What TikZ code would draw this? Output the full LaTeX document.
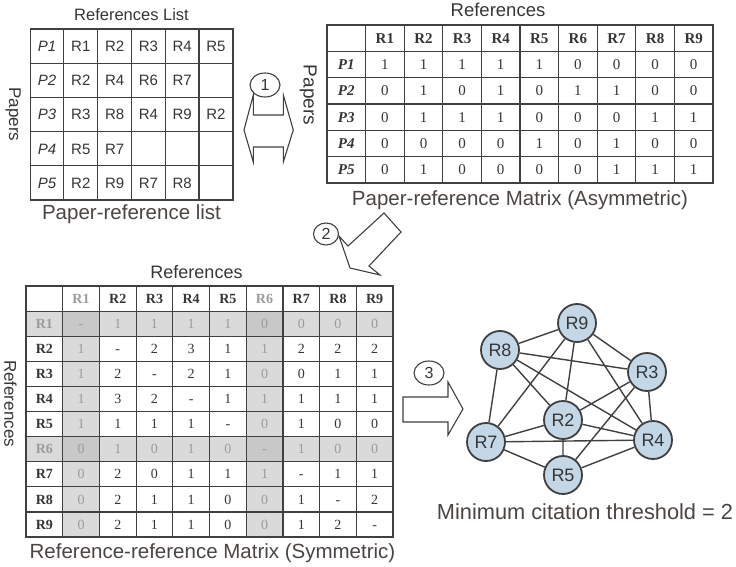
\documentclass[tikz,border=0pt]{standalone}
\usepackage{fontspec}
\setmainfont{Liberation Sans}
\newfontfamily\serifcell{Liberation Serif}
\usepackage{tikz}
\usepackage{xcolor}
\usetikzlibrary{matrix,positioning,shapes.geometric}
\definecolor{gridline}{HTML}{404040}
\definecolor{inkgray}{HTML}{363636}
\definecolor{capgray}{HTML}{4A4542}
\definecolor{shadecell}{HTML}{DADADA}
\definecolor{shadecross}{HTML}{C8C8C8}
\definecolor{shadetext}{HTML}{9C9C9C}
\definecolor{refblue}{HTML}{C3D7E6}
\tikzset{
    grid-table/.style = {matrix of nodes, nodes in empty cells, line width=1.2pt, inner sep=0pt,
        column sep=-\pgflinewidth, row sep=-\pgflinewidth,
        nodes={draw=gridline, fill=white, inner sep=0pt, anchor=center, text=inkgray, text depth=0pt}},
    list-cells/.style = {nodes={minimum width=33.8pt, minimum height=34.2pt, text height=10.7pt,
        font=\fontsize{15}{15}\selectfont}},
    paper-cells/.style = {nodes={minimum width=38.6pt, minimum height=26.3pt, text height=10pt,
        font=\serifcell\fontsize{15}{15}\selectfont}},
    ref-cells/.style = {nodes={minimum width=36.7pt, minimum height=25.1pt, text height=9.3pt,
        font=\serifcell\fontsize{14}{14}\selectfont}},
    faded/.style = {nodes={fill=shadecell, text=shadetext}},
    crossed/.style = {nodes={fill=shadecross}},
    title-text/.style = {inner sep=0pt, text=inkgray},
    side-text/.style = {inner sep=0pt, text=inkgray, rotate=-90, anchor=north},
    caption-text/.style = {inner sep=0pt, text=capgray, font=\fontsize{20.5}{20.5}\selectfont},
    ref-node/.style = {circle, draw=gridline, line width=1.8pt, fill=refblue, minimum size=38pt,
        inner sep=0pt, text=inkgray, font=\fontsize{18}{18}\selectfont},
    ref-link/.style = {draw=gridline, line width=1.4pt},
    step-num/.style = {ellipse, draw=gridline, line width=1.1pt, fill=white, minimum width=30pt,
        minimum height=24pt, inner sep=0pt, text=inkgray, font=\fontsize{16}{16}\selectfont},
    block-arrow/.style = {draw=gridline, fill=white, line width=1.1pt},
}

\begin{document}
\begin{tikzpicture}[x=1pt, y=-1pt]
\useasboundingbox (0,0) rectangle (736,567);

% paper-reference list
\matrix[grid-table, list-cells,
    column 1/.style={nodes={font=\fontsize{15}{15}\selectfont\itshape}}] (plist) at (131.5,114.5) {
P1 & R1 & R2 & R3 & R4 & R5 \\
P2 & R2 & R4 & R6 & R7 &    \\
P3 & R3 & R8 & R4 & R9 & R2 \\
P4 & R5 & R7 &    &    &    \\
P5 & R2 & R9 & R7 & R8 &    \\
};
\node[title-text, font=\fontsize{16.5}{16.5}\selectfont, above=7pt] (plist-title) at (plist.north) {References List};
\node[side-text, font=\fontsize{17}{17}\selectfont] (plist-side) at ([xshift=-8pt]plist.west) {Papers};
\node[caption-text, below=3pt] (plist-caption) at (plist.south) {Paper-reference list};

% paper-reference matrix
\matrix[grid-table, paper-cells,
    row 1/.style={nodes={font=\serifcell\fontsize{15}{15}\selectfont\bfseries}},
    column 1/.style={nodes={font=\serifcell\fontsize{15}{15}\selectfont\bfseries\itshape}}] (pmatrix) at (520,104) {
   & R1 & R2 & R3 & R4 & R5 & R6 & R7 & R8 & R9 \\
P1 & 1 & 1 & 1 & 1 & 1 & 0 & 0 & 0 & 0 \\
P2 & 0 & 1 & 0 & 1 & 0 & 1 & 1 & 0 & 0 \\
P3 & 0 & 1 & 1 & 1 & 0 & 0 & 0 & 1 & 1 \\
P4 & 0 & 0 & 0 & 0 & 1 & 0 & 1 & 0 & 0 \\
P5 & 0 & 1 & 0 & 0 & 0 & 0 & 1 & 1 & 1 \\
};
\node[title-text, font=\fontsize{18.5}{18.5}\selectfont, above=7pt, xshift=-22pt] (pmatrix-title) at (pmatrix.north) {References};
\node[side-text, font=\fontsize{19}{19}\selectfont] (pmatrix-side) at ([xshift=-9pt, yshift=9pt]pmatrix.west) {Papers};
\node[caption-text, below=6pt] (pmatrix-caption) at (pmatrix.south) {Paper-reference Matrix (Asymmetric)};

% reference-reference matrix
\matrix[grid-table, ref-cells,
    column 2/.style={faded}, column 7/.style={faded},
    column 1/.style={nodes={font=\serifcell\fontsize{14}{14}\selectfont\bfseries}},
    row 2/.style={faded}, row 7/.style={faded},
    row 1/.style={nodes={fill=white, font=\serifcell\fontsize{14}{14}\selectfont\bfseries}},
    row 2 column 2/.style={crossed}, row 2 column 7/.style={crossed},
    row 7 column 2/.style={crossed}, row 7 column 7/.style={crossed}] (rmatrix) at (209.5,411.5) {
   & R1 & R2 & R3 & R4 & R5 & R6 & R7 & R8 & R9 \\
R1 & - & 1 & 1 & 1 & 1 & 0 & 0 & 0 & 0 \\
R2 & 1 & - & 2 & 3 & 1 & 1 & 2 & 2 & 2 \\
R3 & 1 & 2 & - & 2 & 1 & 0 & 0 & 1 & 1 \\
R4 & 1 & 3 & 2 & - & 1 & 1 & 1 & 1 & 1 \\
R5 & 1 & 1 & 1 & 1 & - & 0 & 1 & 0 & 0 \\
R6 & 0 & 1 & 0 & 1 & 0 & - & 1 & 0 & 0 \\
R7 & 0 & 2 & 0 & 1 & 1 & 1 & - & 1 & 1 \\
R8 & 0 & 2 & 1 & 1 & 0 & 0 & 1 & - & 2 \\
R9 & 0 & 2 & 1 & 1 & 0 & 0 & 1 & 2 & - \\
};
\node[title-text, font=\fontsize{18}{18}\selectfont, above=6pt, xshift=-13pt] (rmatrix-title) at (rmatrix.north) {References};
\node[side-text, font=\fontsize{17}{17}\selectfont] (rmatrix-side) at ([xshift=-8pt, yshift=8pt]rmatrix.west) {References};
\node[caption-text, below=5pt, xshift=3pt] (rmatrix-caption) at (rmatrix.south) {Reference-reference Matrix (Symmetric)};

% steps
\node[step-num] (step1) at (265,85) {1};
\draw[block-arrow] (253.3,95) -- (253.3,115) -- (283.3,115) -- (283.3,95) -- (293.3,130) -- (283.3,162)
    -- (283.3,147) -- (253.3,147) -- (253.3,162) -- (244,130) -- cycle;
\node[step-num, minimum width=25pt, minimum height=22pt] (step2) at (326,234) {2};
\draw[block-arrow] (339,236) -- (350,268) -- (380,275) -- (369,266) -- (401,232) -- (384,213) -- (348,246) -- cycle;
\node[step-num] (step3) at (429,373) {3};
\draw[block-arrow] (403,397) -- (448,397) -- (448,382) -- (463,409) -- (448,435) -- (448,422) -- (403,422) -- cycle;

% co-citation network
\node[ref-node] (r9) at (577,323) {R9};
\node[ref-node] (r8) at (500,350) {R8};
\node[ref-node] (r3) at (647,372) {R3};
\node[ref-node] (r2) at (563,420) {R2};
\node[ref-node] (r7) at (486,442) {R7};
\node[ref-node] (r4) at (653,440) {R4};
\node[ref-node] (r5) at (563,475) {R5};
\draw[ref-link] (r8) -- (r9) (r8) -- (r7) (r8) -- (r3) (r8) -- (r2) (r8) -- (r4)
    (r9) -- (r7) (r9) -- (r2) (r9) -- (r3) (r9) -- (r4)
    (r3) -- (r2) (r3) -- (r4) (r3) -- (r5)
    (r2) -- (r7) (r2) -- (r4) (r2) -- (r5)
    (r7) -- (r4) (r7) -- (r5) (r4) -- (r5);
\node[caption-text, font=\fontsize{21.8}{21.8}\selectfont] (threshold) at (585,512) {Minimum citation threshold = 2};
\end{tikzpicture}
\end{document}
